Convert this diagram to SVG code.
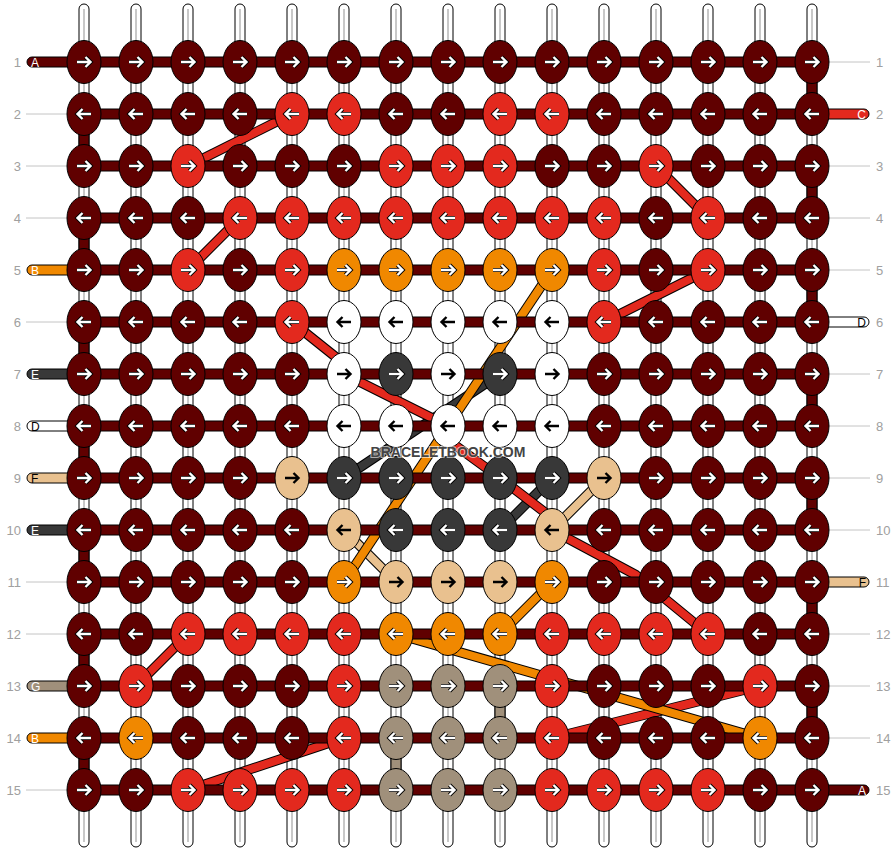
<svg xmlns="http://www.w3.org/2000/svg" xmlns:xlink="http://www.w3.org/1999/xlink" width="896" height="852" viewBox="0 0 896 852">
<style>
.d{fill:#600000}.r{fill:#e3291e}.o{fill:#f08800}.w{fill:#fff}.k{fill:#383838}.t{fill:#e9c18f}.g{fill:#a0907b}
ellipse{stroke:#000;stroke-width:1}
.bar{fill:#600000;stroke:#000;stroke-width:1}
.tube{fill:#fff;stroke:#000;stroke-width:1}
.core{stroke:#c8c8c8;stroke-width:2}
.seg{stroke:#000;stroke-width:1}
.gl{stroke:#c4c4c4;stroke-width:1}
.num{font-family:"Liberation Sans",Arial,sans-serif;font-size:13px;fill:#a0a0a0}
.lab{font-family:"Liberation Sans",Arial,sans-serif;font-size:12px}
.ol{fill:none;stroke:#000;stroke-width:10;stroke-linejoin:round}
.cl{fill:none;stroke-width:8;stroke-linejoin:round}
.sr{stroke:#e3291e}.so{stroke:#f08800}.sk{stroke:#383838}.st{stroke:#e9c18f}
.wm{font-family:"Liberation Sans",Arial,sans-serif;font-size:14px;font-weight:bold;fill:#444;stroke:#fff;stroke-width:2;stroke-opacity:0.6;paint-order:stroke}
</style>
<defs>
<g id="R"><path d="M-7,0H6M1.5,-5L6.5,0L1.5,5" fill="none" stroke="#000" stroke-width="4.2"/><path d="M-7,0H6M1.5,-5L6.5,0L1.5,5" fill="none" stroke="#fff" stroke-width="2.4"/></g>
<g id="L" transform="scale(-1,1)"><use href="#R"/></g>
<path id="Rb" d="M-7,0H6M1.5,-5L6.5,0L1.5,5" fill="none" stroke="#000" stroke-width="2.4"/>
<g id="Lb" transform="scale(-1,1)"><use href="#Rb"/></g>
</defs>
<rect width="896" height="852" fill="#fff"/>

<g id="labels">
<text class="num" x="21" y="67" text-anchor="end">1</text>
<text class="num" x="21" y="119" text-anchor="end">2</text>
<text class="num" x="21" y="171" text-anchor="end">3</text>
<text class="num" x="21" y="223" text-anchor="end">4</text>
<text class="num" x="21" y="275" text-anchor="end">5</text>
<text class="num" x="21" y="327" text-anchor="end">6</text>
<text class="num" x="21" y="379" text-anchor="end">7</text>
<text class="num" x="21" y="431" text-anchor="end">8</text>
<text class="num" x="21" y="483" text-anchor="end">9</text>
<text class="num" x="21" y="535" text-anchor="end">10</text>
<text class="num" x="21" y="587" text-anchor="end">11</text>
<text class="num" x="21" y="639" text-anchor="end">12</text>
<text class="num" x="21" y="691" text-anchor="end">13</text>
<text class="num" x="21" y="743" text-anchor="end">14</text>
<text class="num" x="21" y="795" text-anchor="end">15</text>
<text class="num" x="876" y="67">1</text>
<text class="num" x="876" y="119">2</text>
<text class="num" x="876" y="171">3</text>
<text class="num" x="876" y="223">4</text>
<text class="num" x="876" y="275">5</text>
<text class="num" x="876" y="327">6</text>
<text class="num" x="876" y="379">7</text>
<text class="num" x="876" y="431">8</text>
<text class="num" x="876" y="483">9</text>
<text class="num" x="876" y="535">10</text>
<text class="num" x="876" y="587">11</text>
<text class="num" x="876" y="639">12</text>
<text class="num" x="876" y="691">13</text>
<text class="num" x="876" y="743">14</text>
<text class="num" x="876" y="795">15</text>
<line class="gl" x1="26" y1="114" x2="67" y2="114"/>
<line class="gl" x1="26" y1="166" x2="67" y2="166"/>
<line class="gl" x1="26" y1="218" x2="67" y2="218"/>
<line class="gl" x1="26" y1="322" x2="67" y2="322"/>
<line class="gl" x1="26" y1="582" x2="67" y2="582"/>
<line class="gl" x1="26" y1="634" x2="67" y2="634"/>
<line class="gl" x1="26" y1="790" x2="67" y2="790"/>
<line class="gl" x1="829" y1="62" x2="870" y2="62"/>
<line class="gl" x1="829" y1="166" x2="870" y2="166"/>
<line class="gl" x1="829" y1="218" x2="870" y2="218"/>
<line class="gl" x1="829" y1="270" x2="870" y2="270"/>
<line class="gl" x1="829" y1="374" x2="870" y2="374"/>
<line class="gl" x1="829" y1="426" x2="870" y2="426"/>
<line class="gl" x1="829" y1="478" x2="870" y2="478"/>
<line class="gl" x1="829" y1="530" x2="870" y2="530"/>
<line class="gl" x1="829" y1="634" x2="870" y2="634"/>
<line class="gl" x1="829" y1="686" x2="870" y2="686"/>
<line class="gl" x1="829" y1="738" x2="870" y2="738"/>
</g>

<g id="strings">
<g id="tubes">
<rect class="tube" x="79" y="4" width="10" height="843" rx="5"/><line class="core" x1="84" y1="9" x2="84" y2="842"/>
<rect class="tube" x="131" y="4" width="10" height="843" rx="5"/><line class="core" x1="136" y1="9" x2="136" y2="842"/>
<rect class="tube" x="183" y="4" width="10" height="843" rx="5"/><line class="core" x1="188" y1="9" x2="188" y2="842"/>
<rect class="tube" x="235" y="4" width="10" height="843" rx="5"/><line class="core" x1="240" y1="9" x2="240" y2="842"/>
<rect class="tube" x="287" y="4" width="10" height="843" rx="5"/><line class="core" x1="292" y1="9" x2="292" y2="842"/>
<rect class="tube" x="339" y="4" width="10" height="843" rx="5"/><line class="core" x1="344" y1="9" x2="344" y2="842"/>
<rect class="tube" x="391" y="4" width="10" height="843" rx="5"/><line class="core" x1="396" y1="9" x2="396" y2="842"/>
<rect class="tube" x="443" y="4" width="10" height="843" rx="5"/><line class="core" x1="448" y1="9" x2="448" y2="842"/>
<rect class="tube" x="495" y="4" width="10" height="843" rx="5"/><line class="core" x1="500" y1="9" x2="500" y2="842"/>
<rect class="tube" x="547" y="4" width="10" height="843" rx="5"/><line class="core" x1="552" y1="9" x2="552" y2="842"/>
<rect class="tube" x="599" y="4" width="10" height="843" rx="5"/><line class="core" x1="604" y1="9" x2="604" y2="842"/>
<rect class="tube" x="651" y="4" width="10" height="843" rx="5"/><line class="core" x1="656" y1="9" x2="656" y2="842"/>
<rect class="tube" x="703" y="4" width="10" height="843" rx="5"/><line class="core" x1="708" y1="9" x2="708" y2="842"/>
<rect class="tube" x="755" y="4" width="10" height="843" rx="5"/><line class="core" x1="760" y1="9" x2="760" y2="842"/>
<rect class="tube" x="807" y="4" width="10" height="843" rx="5"/><line class="core" x1="812" y1="9" x2="812" y2="842"/>
</g>
<g id="vsegs">
<rect class="seg d" x="79" y="129" width="10" height="22"/>
<rect class="seg d" x="79" y="233" width="10" height="22"/>
<rect class="seg d" x="79" y="337" width="10" height="22"/>
<rect class="seg d" x="79" y="441" width="10" height="22"/>
<rect class="seg d" x="79" y="545" width="10" height="22"/>
<rect class="seg d" x="79" y="649" width="10" height="22"/>
<rect class="seg d" x="79" y="753" width="10" height="22"/>
<rect class="seg d" x="807" y="77" width="10" height="22"/>
<rect class="seg d" x="807" y="181" width="10" height="22"/>
<rect class="seg d" x="807" y="285" width="10" height="22"/>
<rect class="seg d" x="807" y="389" width="10" height="22"/>
<rect class="seg d" x="807" y="493" width="10" height="22"/>
<rect class="seg d" x="807" y="597" width="10" height="22"/>
<rect class="seg d" x="807" y="701" width="10" height="22"/>
<rect class="seg g" x="495" y="701" width="10" height="22"/>
<rect class="seg g" x="391" y="753" width="10" height="22"/>
</g>
</g>

<g id="connectors">
<path class="ol" d="M500,374L344,478"/><path class="cl sk" d="M500,374L344,478"/>
<path class="ol" d="M500,530L552,478"/><path class="cl sk" d="M500,530L552,478"/>
<path class="ol" d="M292,322L337,358L344,374L448,426L452,443L500,478L547,514L552,530L636,575L708,634"/><path class="cl sr" d="M292,322L337,358L344,374L448,426L452,443L500,478L547,514L552,530L636,575L708,634"/>
<path class="ol" d="M604,478L552,530"/><path class="cl st" d="M604,478L552,530"/>
<path class="ol" d="M344,530L396,582"/><path class="cl st" d="M344,530L396,582"/>
<path class="ol" d="M552,270L344,582"/><path class="cl so" d="M552,270L344,582"/>
<path class="ol" d="M552,582L500,634"/><path class="cl so" d="M552,582L500,634"/>
<path class="ol" d="M552,738L760,686"/><path class="cl sr" d="M552,738L760,686"/>
<path class="ol" d="M396,634L760,738"/><path class="cl so" d="M396,634L760,738"/>
<path class="ol" d="M292,114L188,166"/><path class="cl sr" d="M292,114L188,166"/>
<path class="ol" d="M240,218L188,270"/><path class="cl sr" d="M240,218L188,270"/>
<path class="ol" d="M656,166L708,218"/><path class="cl sr" d="M656,166L708,218"/>
<path class="ol" d="M708,270L604,322"/><path class="cl sr" d="M708,270L604,322"/>
<path class="ol" d="M188,634L136,686"/><path class="cl sr" d="M188,634L136,686"/>
<path class="ol" d="M188,790L344,738"/><path class="cl sr" d="M188,790L344,738"/>
</g>

<g id="rows">
<rect class="bar" x="84" y="57" width="728" height="10"/>
<rect class="bar" x="84" y="109" width="728" height="10"/>
<rect class="bar" x="84" y="161" width="728" height="10"/>
<rect class="bar" x="84" y="213" width="728" height="10"/>
<rect class="bar" x="84" y="265" width="728" height="10"/>
<rect class="bar" x="84" y="317" width="728" height="10"/>
<rect class="bar" x="84" y="369" width="728" height="10"/>
<rect class="bar" x="84" y="421" width="728" height="10"/>
<rect class="bar" x="84" y="473" width="728" height="10"/>
<rect class="bar" x="84" y="525" width="728" height="10"/>
<rect class="bar" x="84" y="577" width="728" height="10"/>
<rect class="bar" x="84" y="629" width="728" height="10"/>
<rect class="bar" x="84" y="681" width="728" height="10"/>
<rect class="bar" x="84" y="733" width="728" height="10"/>
<rect class="bar" x="84" y="785" width="728" height="10"/>
<g id="tail-l1"><path class="seg d" d="M84,57H32A5,5 0 0 0 32,67H84Z"/><text class="lab" x="31" y="66.5" fill="#fff">A</text></g>
<g id="tail-l5"><path class="seg o" d="M84,265H32A5,5 0 0 0 32,275H84Z"/><text class="lab" x="31" y="274.5" fill="#fff">B</text></g>
<g id="tail-l7"><path class="seg k" d="M84,369H32A5,5 0 0 0 32,379H84Z"/><text class="lab" x="31" y="378.5" fill="#fff">E</text></g>
<g id="tail-l8"><path class="seg w" d="M84,421H32A5,5 0 0 0 32,431H84Z"/><text class="lab" x="31" y="430.5" fill="#000">D</text></g>
<g id="tail-l9"><path class="seg t" d="M84,473H32A5,5 0 0 0 32,483H84Z"/><text class="lab" x="31" y="482.5" fill="#000">F</text></g>
<g id="tail-l10"><path class="seg k" d="M84,525H32A5,5 0 0 0 32,535H84Z"/><text class="lab" x="31" y="534.5" fill="#fff">E</text></g>
<g id="tail-l13"><path class="seg g" d="M84,681H32A5,5 0 0 0 32,691H84Z"/><text class="lab" x="31" y="690.5" fill="#fff">G</text></g>
<g id="tail-l14"><path class="seg o" d="M84,733H32A5,5 0 0 0 32,743H84Z"/><text class="lab" x="31" y="742.5" fill="#fff">B</text></g>
<g id="tail-r2"><path class="seg r" d="M812,109H864A5,5 0 0 1 864,119H812Z"/><text class="lab" x="866" y="118.5" text-anchor="end" fill="#fff">C</text></g>
<g id="tail-r6"><path class="seg w" d="M812,317H864A5,5 0 0 1 864,327H812Z"/><text class="lab" x="866" y="326.5" text-anchor="end" fill="#000">D</text></g>
<g id="tail-r11"><path class="seg t" d="M812,577H864A5,5 0 0 1 864,587H812Z"/><text class="lab" x="866" y="586.5" text-anchor="end" fill="#000">F</text></g>
<g id="tail-r15"><path class="seg d" d="M812,785H864A5,5 0 0 1 864,795H812Z"/><text class="lab" x="866" y="794.5" text-anchor="end" fill="#fff">A</text></g>
</g>

<g id="nodes">
<g id="n1-1"><ellipse class="d" cx="84" cy="62" rx="17" ry="21.5"/><use href="#R" x="84" y="62"/></g>
<g id="n1-2"><ellipse class="d" cx="136" cy="62" rx="17" ry="21.5"/><use href="#R" x="136" y="62"/></g>
<g id="n1-3"><ellipse class="d" cx="188" cy="62" rx="17" ry="21.5"/><use href="#R" x="188" y="62"/></g>
<g id="n1-4"><ellipse class="d" cx="240" cy="62" rx="17" ry="21.5"/><use href="#R" x="240" y="62"/></g>
<g id="n1-5"><ellipse class="d" cx="292" cy="62" rx="17" ry="21.5"/><use href="#R" x="292" y="62"/></g>
<g id="n1-6"><ellipse class="d" cx="344" cy="62" rx="17" ry="21.5"/><use href="#R" x="344" y="62"/></g>
<g id="n1-7"><ellipse class="d" cx="396" cy="62" rx="17" ry="21.5"/><use href="#R" x="396" y="62"/></g>
<g id="n1-8"><ellipse class="d" cx="448" cy="62" rx="17" ry="21.5"/><use href="#R" x="448" y="62"/></g>
<g id="n1-9"><ellipse class="d" cx="500" cy="62" rx="17" ry="21.5"/><use href="#R" x="500" y="62"/></g>
<g id="n1-10"><ellipse class="d" cx="552" cy="62" rx="17" ry="21.5"/><use href="#R" x="552" y="62"/></g>
<g id="n1-11"><ellipse class="d" cx="604" cy="62" rx="17" ry="21.5"/><use href="#R" x="604" y="62"/></g>
<g id="n1-12"><ellipse class="d" cx="656" cy="62" rx="17" ry="21.5"/><use href="#R" x="656" y="62"/></g>
<g id="n1-13"><ellipse class="d" cx="708" cy="62" rx="17" ry="21.5"/><use href="#R" x="708" y="62"/></g>
<g id="n1-14"><ellipse class="d" cx="760" cy="62" rx="17" ry="21.5"/><use href="#R" x="760" y="62"/></g>
<g id="n1-15"><ellipse class="d" cx="812" cy="62" rx="17" ry="21.5"/><use href="#R" x="812" y="62"/></g>

<g id="n2-1"><ellipse class="d" cx="84" cy="114" rx="17" ry="21.5"/><use href="#L" x="84" y="114"/></g>
<g id="n2-2"><ellipse class="d" cx="136" cy="114" rx="17" ry="21.5"/><use href="#L" x="136" y="114"/></g>
<g id="n2-3"><ellipse class="d" cx="188" cy="114" rx="17" ry="21.5"/><use href="#L" x="188" y="114"/></g>
<g id="n2-4"><ellipse class="d" cx="240" cy="114" rx="17" ry="21.5"/><use href="#L" x="240" y="114"/></g>
<g id="n2-5"><ellipse class="r" cx="292" cy="114" rx="17" ry="21.5"/><use href="#L" x="292" y="114"/></g>
<g id="n2-6"><ellipse class="r" cx="344" cy="114" rx="17" ry="21.5"/><use href="#L" x="344" y="114"/></g>
<g id="n2-7"><ellipse class="d" cx="396" cy="114" rx="17" ry="21.5"/><use href="#L" x="396" y="114"/></g>
<g id="n2-8"><ellipse class="d" cx="448" cy="114" rx="17" ry="21.5"/><use href="#L" x="448" y="114"/></g>
<g id="n2-9"><ellipse class="r" cx="500" cy="114" rx="17" ry="21.5"/><use href="#L" x="500" y="114"/></g>
<g id="n2-10"><ellipse class="r" cx="552" cy="114" rx="17" ry="21.5"/><use href="#L" x="552" y="114"/></g>
<g id="n2-11"><ellipse class="d" cx="604" cy="114" rx="17" ry="21.5"/><use href="#L" x="604" y="114"/></g>
<g id="n2-12"><ellipse class="d" cx="656" cy="114" rx="17" ry="21.5"/><use href="#L" x="656" y="114"/></g>
<g id="n2-13"><ellipse class="d" cx="708" cy="114" rx="17" ry="21.5"/><use href="#L" x="708" y="114"/></g>
<g id="n2-14"><ellipse class="d" cx="760" cy="114" rx="17" ry="21.5"/><use href="#L" x="760" y="114"/></g>
<g id="n2-15"><ellipse class="d" cx="812" cy="114" rx="17" ry="21.5"/><use href="#L" x="812" y="114"/></g>

<g id="n3-1"><ellipse class="d" cx="84" cy="166" rx="17" ry="21.5"/><use href="#R" x="84" y="166"/></g>
<g id="n3-2"><ellipse class="d" cx="136" cy="166" rx="17" ry="21.5"/><use href="#R" x="136" y="166"/></g>
<g id="n3-3"><ellipse class="r" cx="188" cy="166" rx="17" ry="21.5"/><use href="#R" x="188" y="166"/></g>
<g id="n3-4"><ellipse class="d" cx="240" cy="166" rx="17" ry="21.5"/><use href="#R" x="240" y="166"/></g>
<g id="n3-5"><ellipse class="d" cx="292" cy="166" rx="17" ry="21.5"/><use href="#R" x="292" y="166"/></g>
<g id="n3-6"><ellipse class="d" cx="344" cy="166" rx="17" ry="21.5"/><use href="#R" x="344" y="166"/></g>
<g id="n3-7"><ellipse class="r" cx="396" cy="166" rx="17" ry="21.5"/><use href="#R" x="396" y="166"/></g>
<g id="n3-8"><ellipse class="r" cx="448" cy="166" rx="17" ry="21.5"/><use href="#R" x="448" y="166"/></g>
<g id="n3-9"><ellipse class="r" cx="500" cy="166" rx="17" ry="21.5"/><use href="#R" x="500" y="166"/></g>
<g id="n3-10"><ellipse class="d" cx="552" cy="166" rx="17" ry="21.5"/><use href="#R" x="552" y="166"/></g>
<g id="n3-11"><ellipse class="d" cx="604" cy="166" rx="17" ry="21.5"/><use href="#R" x="604" y="166"/></g>
<g id="n3-12"><ellipse class="r" cx="656" cy="166" rx="17" ry="21.5"/><use href="#R" x="656" y="166"/></g>
<g id="n3-13"><ellipse class="d" cx="708" cy="166" rx="17" ry="21.5"/><use href="#R" x="708" y="166"/></g>
<g id="n3-14"><ellipse class="d" cx="760" cy="166" rx="17" ry="21.5"/><use href="#R" x="760" y="166"/></g>
<g id="n3-15"><ellipse class="d" cx="812" cy="166" rx="17" ry="21.5"/><use href="#R" x="812" y="166"/></g>

<g id="n4-1"><ellipse class="d" cx="84" cy="218" rx="17" ry="21.5"/><use href="#L" x="84" y="218"/></g>
<g id="n4-2"><ellipse class="d" cx="136" cy="218" rx="17" ry="21.5"/><use href="#L" x="136" y="218"/></g>
<g id="n4-3"><ellipse class="d" cx="188" cy="218" rx="17" ry="21.5"/><use href="#L" x="188" y="218"/></g>
<g id="n4-4"><ellipse class="r" cx="240" cy="218" rx="17" ry="21.5"/><use href="#L" x="240" y="218"/></g>
<g id="n4-5"><ellipse class="r" cx="292" cy="218" rx="17" ry="21.5"/><use href="#L" x="292" y="218"/></g>
<g id="n4-6"><ellipse class="r" cx="344" cy="218" rx="17" ry="21.5"/><use href="#L" x="344" y="218"/></g>
<g id="n4-7"><ellipse class="r" cx="396" cy="218" rx="17" ry="21.5"/><use href="#L" x="396" y="218"/></g>
<g id="n4-8"><ellipse class="r" cx="448" cy="218" rx="17" ry="21.5"/><use href="#L" x="448" y="218"/></g>
<g id="n4-9"><ellipse class="r" cx="500" cy="218" rx="17" ry="21.5"/><use href="#L" x="500" y="218"/></g>
<g id="n4-10"><ellipse class="r" cx="552" cy="218" rx="17" ry="21.5"/><use href="#L" x="552" y="218"/></g>
<g id="n4-11"><ellipse class="r" cx="604" cy="218" rx="17" ry="21.5"/><use href="#L" x="604" y="218"/></g>
<g id="n4-12"><ellipse class="d" cx="656" cy="218" rx="17" ry="21.5"/><use href="#L" x="656" y="218"/></g>
<g id="n4-13"><ellipse class="r" cx="708" cy="218" rx="17" ry="21.5"/><use href="#L" x="708" y="218"/></g>
<g id="n4-14"><ellipse class="d" cx="760" cy="218" rx="17" ry="21.5"/><use href="#L" x="760" y="218"/></g>
<g id="n4-15"><ellipse class="d" cx="812" cy="218" rx="17" ry="21.5"/><use href="#L" x="812" y="218"/></g>

<g id="n5-1"><ellipse class="d" cx="84" cy="270" rx="17" ry="21.5"/><use href="#R" x="84" y="270"/></g>
<g id="n5-2"><ellipse class="d" cx="136" cy="270" rx="17" ry="21.5"/><use href="#R" x="136" y="270"/></g>
<g id="n5-3"><ellipse class="r" cx="188" cy="270" rx="17" ry="21.5"/><use href="#R" x="188" y="270"/></g>
<g id="n5-4"><ellipse class="d" cx="240" cy="270" rx="17" ry="21.5"/><use href="#R" x="240" y="270"/></g>
<g id="n5-5"><ellipse class="r" cx="292" cy="270" rx="17" ry="21.5"/><use href="#R" x="292" y="270"/></g>
<g id="n5-6"><ellipse class="o" cx="344" cy="270" rx="17" ry="21.5"/><use href="#R" x="344" y="270"/></g>
<g id="n5-7"><ellipse class="o" cx="396" cy="270" rx="17" ry="21.5"/><use href="#R" x="396" y="270"/></g>
<g id="n5-8"><ellipse class="o" cx="448" cy="270" rx="17" ry="21.5"/><use href="#R" x="448" y="270"/></g>
<g id="n5-9"><ellipse class="o" cx="500" cy="270" rx="17" ry="21.5"/><use href="#R" x="500" y="270"/></g>
<g id="n5-10"><ellipse class="o" cx="552" cy="270" rx="17" ry="21.5"/><use href="#R" x="552" y="270"/></g>
<g id="n5-11"><ellipse class="r" cx="604" cy="270" rx="17" ry="21.5"/><use href="#R" x="604" y="270"/></g>
<g id="n5-12"><ellipse class="d" cx="656" cy="270" rx="17" ry="21.5"/><use href="#R" x="656" y="270"/></g>
<g id="n5-13"><ellipse class="r" cx="708" cy="270" rx="17" ry="21.5"/><use href="#R" x="708" y="270"/></g>
<g id="n5-14"><ellipse class="d" cx="760" cy="270" rx="17" ry="21.5"/><use href="#R" x="760" y="270"/></g>
<g id="n5-15"><ellipse class="d" cx="812" cy="270" rx="17" ry="21.5"/><use href="#R" x="812" y="270"/></g>

<g id="n6-1"><ellipse class="d" cx="84" cy="322" rx="17" ry="21.5"/><use href="#L" x="84" y="322"/></g>
<g id="n6-2"><ellipse class="d" cx="136" cy="322" rx="17" ry="21.5"/><use href="#L" x="136" y="322"/></g>
<g id="n6-3"><ellipse class="d" cx="188" cy="322" rx="17" ry="21.5"/><use href="#L" x="188" y="322"/></g>
<g id="n6-4"><ellipse class="d" cx="240" cy="322" rx="17" ry="21.5"/><use href="#L" x="240" y="322"/></g>
<g id="n6-5"><ellipse class="r" cx="292" cy="322" rx="17" ry="21.5"/><use href="#L" x="292" y="322"/></g>
<g id="n6-6"><ellipse class="w" cx="344" cy="322" rx="17" ry="21.5"/><use href="#Lb" x="344" y="322"/></g>
<g id="n6-7"><ellipse class="w" cx="396" cy="322" rx="17" ry="21.5"/><use href="#Lb" x="396" y="322"/></g>
<g id="n6-8"><ellipse class="w" cx="448" cy="322" rx="17" ry="21.5"/><use href="#Lb" x="448" y="322"/></g>
<g id="n6-9"><ellipse class="w" cx="500" cy="322" rx="17" ry="21.5"/><use href="#Lb" x="500" y="322"/></g>
<g id="n6-10"><ellipse class="w" cx="552" cy="322" rx="17" ry="21.5"/><use href="#Lb" x="552" y="322"/></g>
<g id="n6-11"><ellipse class="r" cx="604" cy="322" rx="17" ry="21.5"/><use href="#L" x="604" y="322"/></g>
<g id="n6-12"><ellipse class="d" cx="656" cy="322" rx="17" ry="21.5"/><use href="#L" x="656" y="322"/></g>
<g id="n6-13"><ellipse class="d" cx="708" cy="322" rx="17" ry="21.5"/><use href="#L" x="708" y="322"/></g>
<g id="n6-14"><ellipse class="d" cx="760" cy="322" rx="17" ry="21.5"/><use href="#L" x="760" y="322"/></g>
<g id="n6-15"><ellipse class="d" cx="812" cy="322" rx="17" ry="21.5"/><use href="#L" x="812" y="322"/></g>

<g id="n7-1"><ellipse class="d" cx="84" cy="374" rx="17" ry="21.5"/><use href="#R" x="84" y="374"/></g>
<g id="n7-2"><ellipse class="d" cx="136" cy="374" rx="17" ry="21.5"/><use href="#R" x="136" y="374"/></g>
<g id="n7-3"><ellipse class="d" cx="188" cy="374" rx="17" ry="21.5"/><use href="#R" x="188" y="374"/></g>
<g id="n7-4"><ellipse class="d" cx="240" cy="374" rx="17" ry="21.5"/><use href="#R" x="240" y="374"/></g>
<g id="n7-5"><ellipse class="d" cx="292" cy="374" rx="17" ry="21.5"/><use href="#R" x="292" y="374"/></g>
<g id="n7-6"><ellipse class="w" cx="344" cy="374" rx="17" ry="21.5"/><use href="#Rb" x="344" y="374"/></g>
<g id="n7-7"><ellipse class="k" cx="396" cy="374" rx="17" ry="21.5"/><use href="#R" x="396" y="374"/></g>
<g id="n7-8"><ellipse class="w" cx="448" cy="374" rx="17" ry="21.5"/><use href="#Rb" x="448" y="374"/></g>
<g id="n7-9"><ellipse class="k" cx="500" cy="374" rx="17" ry="21.5"/><use href="#R" x="500" y="374"/></g>
<g id="n7-10"><ellipse class="w" cx="552" cy="374" rx="17" ry="21.5"/><use href="#Rb" x="552" y="374"/></g>
<g id="n7-11"><ellipse class="d" cx="604" cy="374" rx="17" ry="21.5"/><use href="#R" x="604" y="374"/></g>
<g id="n7-12"><ellipse class="d" cx="656" cy="374" rx="17" ry="21.5"/><use href="#R" x="656" y="374"/></g>
<g id="n7-13"><ellipse class="d" cx="708" cy="374" rx="17" ry="21.5"/><use href="#R" x="708" y="374"/></g>
<g id="n7-14"><ellipse class="d" cx="760" cy="374" rx="17" ry="21.5"/><use href="#R" x="760" y="374"/></g>
<g id="n7-15"><ellipse class="d" cx="812" cy="374" rx="17" ry="21.5"/><use href="#R" x="812" y="374"/></g>

<g id="n8-1"><ellipse class="d" cx="84" cy="426" rx="17" ry="21.5"/><use href="#L" x="84" y="426"/></g>
<g id="n8-2"><ellipse class="d" cx="136" cy="426" rx="17" ry="21.5"/><use href="#L" x="136" y="426"/></g>
<g id="n8-3"><ellipse class="d" cx="188" cy="426" rx="17" ry="21.5"/><use href="#L" x="188" y="426"/></g>
<g id="n8-4"><ellipse class="d" cx="240" cy="426" rx="17" ry="21.5"/><use href="#L" x="240" y="426"/></g>
<g id="n8-5"><ellipse class="d" cx="292" cy="426" rx="17" ry="21.5"/><use href="#L" x="292" y="426"/></g>
<g id="n8-6"><ellipse class="w" cx="344" cy="426" rx="17" ry="21.5"/><use href="#Lb" x="344" y="426"/></g>
<g id="n8-7"><ellipse class="w" cx="396" cy="426" rx="17" ry="21.5"/><use href="#Lb" x="396" y="426"/></g>
<g id="n8-8"><ellipse class="w" cx="448" cy="426" rx="17" ry="21.5"/><use href="#Lb" x="448" y="426"/></g>
<g id="n8-9"><ellipse class="w" cx="500" cy="426" rx="17" ry="21.5"/><use href="#Lb" x="500" y="426"/></g>
<g id="n8-10"><ellipse class="w" cx="552" cy="426" rx="17" ry="21.5"/><use href="#Lb" x="552" y="426"/></g>
<g id="n8-11"><ellipse class="d" cx="604" cy="426" rx="17" ry="21.5"/><use href="#L" x="604" y="426"/></g>
<g id="n8-12"><ellipse class="d" cx="656" cy="426" rx="17" ry="21.5"/><use href="#L" x="656" y="426"/></g>
<g id="n8-13"><ellipse class="d" cx="708" cy="426" rx="17" ry="21.5"/><use href="#L" x="708" y="426"/></g>
<g id="n8-14"><ellipse class="d" cx="760" cy="426" rx="17" ry="21.5"/><use href="#L" x="760" y="426"/></g>
<g id="n8-15"><ellipse class="d" cx="812" cy="426" rx="17" ry="21.5"/><use href="#L" x="812" y="426"/></g>

<g id="n9-1"><ellipse class="d" cx="84" cy="478" rx="17" ry="21.5"/><use href="#R" x="84" y="478"/></g>
<g id="n9-2"><ellipse class="d" cx="136" cy="478" rx="17" ry="21.5"/><use href="#R" x="136" y="478"/></g>
<g id="n9-3"><ellipse class="d" cx="188" cy="478" rx="17" ry="21.5"/><use href="#R" x="188" y="478"/></g>
<g id="n9-4"><ellipse class="d" cx="240" cy="478" rx="17" ry="21.5"/><use href="#R" x="240" y="478"/></g>
<g id="n9-5"><ellipse class="t" cx="292" cy="478" rx="17" ry="21.5"/><use href="#Rb" x="292" y="478"/></g>
<g id="n9-6"><ellipse class="k" cx="344" cy="478" rx="17" ry="21.5"/><use href="#R" x="344" y="478"/></g>
<g id="n9-7"><ellipse class="k" cx="396" cy="478" rx="17" ry="21.5"/><use href="#R" x="396" y="478"/></g>
<g id="n9-8"><ellipse class="k" cx="448" cy="478" rx="17" ry="21.5"/><use href="#R" x="448" y="478"/></g>
<g id="n9-9"><ellipse class="k" cx="500" cy="478" rx="17" ry="21.5"/><use href="#R" x="500" y="478"/></g>
<g id="n9-10"><ellipse class="k" cx="552" cy="478" rx="17" ry="21.5"/><use href="#R" x="552" y="478"/></g>
<g id="n9-11"><ellipse class="t" cx="604" cy="478" rx="17" ry="21.5"/><use href="#Rb" x="604" y="478"/></g>
<g id="n9-12"><ellipse class="d" cx="656" cy="478" rx="17" ry="21.5"/><use href="#R" x="656" y="478"/></g>
<g id="n9-13"><ellipse class="d" cx="708" cy="478" rx="17" ry="21.5"/><use href="#R" x="708" y="478"/></g>
<g id="n9-14"><ellipse class="d" cx="760" cy="478" rx="17" ry="21.5"/><use href="#R" x="760" y="478"/></g>
<g id="n9-15"><ellipse class="d" cx="812" cy="478" rx="17" ry="21.5"/><use href="#R" x="812" y="478"/></g>

<g id="n10-1"><ellipse class="d" cx="84" cy="530" rx="17" ry="21.5"/><use href="#L" x="84" y="530"/></g>
<g id="n10-2"><ellipse class="d" cx="136" cy="530" rx="17" ry="21.5"/><use href="#L" x="136" y="530"/></g>
<g id="n10-3"><ellipse class="d" cx="188" cy="530" rx="17" ry="21.5"/><use href="#L" x="188" y="530"/></g>
<g id="n10-4"><ellipse class="d" cx="240" cy="530" rx="17" ry="21.5"/><use href="#L" x="240" y="530"/></g>
<g id="n10-5"><ellipse class="d" cx="292" cy="530" rx="17" ry="21.5"/><use href="#L" x="292" y="530"/></g>
<g id="n10-6"><ellipse class="t" cx="344" cy="530" rx="17" ry="21.5"/><use href="#Lb" x="344" y="530"/></g>
<g id="n10-7"><ellipse class="k" cx="396" cy="530" rx="17" ry="21.5"/><use href="#L" x="396" y="530"/></g>
<g id="n10-8"><ellipse class="k" cx="448" cy="530" rx="17" ry="21.5"/><use href="#L" x="448" y="530"/></g>
<g id="n10-9"><ellipse class="k" cx="500" cy="530" rx="17" ry="21.5"/><use href="#L" x="500" y="530"/></g>
<g id="n10-10"><ellipse class="t" cx="552" cy="530" rx="17" ry="21.5"/><use href="#Lb" x="552" y="530"/></g>
<g id="n10-11"><ellipse class="d" cx="604" cy="530" rx="17" ry="21.5"/><use href="#L" x="604" y="530"/></g>
<g id="n10-12"><ellipse class="d" cx="656" cy="530" rx="17" ry="21.5"/><use href="#L" x="656" y="530"/></g>
<g id="n10-13"><ellipse class="d" cx="708" cy="530" rx="17" ry="21.5"/><use href="#L" x="708" y="530"/></g>
<g id="n10-14"><ellipse class="d" cx="760" cy="530" rx="17" ry="21.5"/><use href="#L" x="760" y="530"/></g>
<g id="n10-15"><ellipse class="d" cx="812" cy="530" rx="17" ry="21.5"/><use href="#L" x="812" y="530"/></g>

<g id="n11-1"><ellipse class="d" cx="84" cy="582" rx="17" ry="21.5"/><use href="#R" x="84" y="582"/></g>
<g id="n11-2"><ellipse class="d" cx="136" cy="582" rx="17" ry="21.5"/><use href="#R" x="136" y="582"/></g>
<g id="n11-3"><ellipse class="d" cx="188" cy="582" rx="17" ry="21.5"/><use href="#R" x="188" y="582"/></g>
<g id="n11-4"><ellipse class="d" cx="240" cy="582" rx="17" ry="21.5"/><use href="#R" x="240" y="582"/></g>
<g id="n11-5"><ellipse class="d" cx="292" cy="582" rx="17" ry="21.5"/><use href="#R" x="292" y="582"/></g>
<g id="n11-6"><ellipse class="o" cx="344" cy="582" rx="17" ry="21.5"/><use href="#R" x="344" y="582"/></g>
<g id="n11-7"><ellipse class="t" cx="396" cy="582" rx="17" ry="21.5"/><use href="#Rb" x="396" y="582"/></g>
<g id="n11-8"><ellipse class="t" cx="448" cy="582" rx="17" ry="21.5"/><use href="#Rb" x="448" y="582"/></g>
<g id="n11-9"><ellipse class="t" cx="500" cy="582" rx="17" ry="21.5"/><use href="#Rb" x="500" y="582"/></g>
<g id="n11-10"><ellipse class="o" cx="552" cy="582" rx="17" ry="21.5"/><use href="#R" x="552" y="582"/></g>
<g id="n11-11"><ellipse class="d" cx="604" cy="582" rx="17" ry="21.5"/><use href="#R" x="604" y="582"/></g>
<g id="n11-12"><ellipse class="d" cx="656" cy="582" rx="17" ry="21.5"/><use href="#R" x="656" y="582"/></g>
<g id="n11-13"><ellipse class="d" cx="708" cy="582" rx="17" ry="21.5"/><use href="#R" x="708" y="582"/></g>
<g id="n11-14"><ellipse class="d" cx="760" cy="582" rx="17" ry="21.5"/><use href="#R" x="760" y="582"/></g>
<g id="n11-15"><ellipse class="d" cx="812" cy="582" rx="17" ry="21.5"/><use href="#R" x="812" y="582"/></g>

<g id="n12-1"><ellipse class="d" cx="84" cy="634" rx="17" ry="21.5"/><use href="#L" x="84" y="634"/></g>
<g id="n12-2"><ellipse class="d" cx="136" cy="634" rx="17" ry="21.5"/><use href="#L" x="136" y="634"/></g>
<g id="n12-3"><ellipse class="r" cx="188" cy="634" rx="17" ry="21.5"/><use href="#L" x="188" y="634"/></g>
<g id="n12-4"><ellipse class="r" cx="240" cy="634" rx="17" ry="21.5"/><use href="#L" x="240" y="634"/></g>
<g id="n12-5"><ellipse class="r" cx="292" cy="634" rx="17" ry="21.5"/><use href="#L" x="292" y="634"/></g>
<g id="n12-6"><ellipse class="r" cx="344" cy="634" rx="17" ry="21.5"/><use href="#L" x="344" y="634"/></g>
<g id="n12-7"><ellipse class="o" cx="396" cy="634" rx="17" ry="21.5"/><use href="#L" x="396" y="634"/></g>
<g id="n12-8"><ellipse class="o" cx="448" cy="634" rx="17" ry="21.5"/><use href="#L" x="448" y="634"/></g>
<g id="n12-9"><ellipse class="o" cx="500" cy="634" rx="17" ry="21.5"/><use href="#L" x="500" y="634"/></g>
<g id="n12-10"><ellipse class="r" cx="552" cy="634" rx="17" ry="21.5"/><use href="#L" x="552" y="634"/></g>
<g id="n12-11"><ellipse class="r" cx="604" cy="634" rx="17" ry="21.5"/><use href="#L" x="604" y="634"/></g>
<g id="n12-12"><ellipse class="r" cx="656" cy="634" rx="17" ry="21.5"/><use href="#L" x="656" y="634"/></g>
<g id="n12-13"><ellipse class="r" cx="708" cy="634" rx="17" ry="21.5"/><use href="#L" x="708" y="634"/></g>
<g id="n12-14"><ellipse class="d" cx="760" cy="634" rx="17" ry="21.5"/><use href="#L" x="760" y="634"/></g>
<g id="n12-15"><ellipse class="d" cx="812" cy="634" rx="17" ry="21.5"/><use href="#L" x="812" y="634"/></g>

<g id="n13-1"><ellipse class="d" cx="84" cy="686" rx="17" ry="21.5"/><use href="#R" x="84" y="686"/></g>
<g id="n13-2"><ellipse class="r" cx="136" cy="686" rx="17" ry="21.5"/><use href="#R" x="136" y="686"/></g>
<g id="n13-3"><ellipse class="d" cx="188" cy="686" rx="17" ry="21.5"/><use href="#R" x="188" y="686"/></g>
<g id="n13-4"><ellipse class="d" cx="240" cy="686" rx="17" ry="21.5"/><use href="#R" x="240" y="686"/></g>
<g id="n13-5"><ellipse class="d" cx="292" cy="686" rx="17" ry="21.5"/><use href="#R" x="292" y="686"/></g>
<g id="n13-6"><ellipse class="r" cx="344" cy="686" rx="17" ry="21.5"/><use href="#R" x="344" y="686"/></g>
<g id="n13-7"><ellipse class="g" cx="396" cy="686" rx="17" ry="21.5"/><use href="#R" x="396" y="686"/></g>
<g id="n13-8"><ellipse class="g" cx="448" cy="686" rx="17" ry="21.5"/><use href="#R" x="448" y="686"/></g>
<g id="n13-9"><ellipse class="g" cx="500" cy="686" rx="17" ry="21.5"/><use href="#R" x="500" y="686"/></g>
<g id="n13-10"><ellipse class="r" cx="552" cy="686" rx="17" ry="21.5"/><use href="#R" x="552" y="686"/></g>
<g id="n13-11"><ellipse class="d" cx="604" cy="686" rx="17" ry="21.5"/><use href="#R" x="604" y="686"/></g>
<g id="n13-12"><ellipse class="d" cx="656" cy="686" rx="17" ry="21.5"/><use href="#R" x="656" y="686"/></g>
<g id="n13-13"><ellipse class="d" cx="708" cy="686" rx="17" ry="21.5"/><use href="#R" x="708" y="686"/></g>
<g id="n13-14"><ellipse class="r" cx="760" cy="686" rx="17" ry="21.5"/><use href="#R" x="760" y="686"/></g>
<g id="n13-15"><ellipse class="d" cx="812" cy="686" rx="17" ry="21.5"/><use href="#R" x="812" y="686"/></g>

<g id="n14-1"><ellipse class="d" cx="84" cy="738" rx="17" ry="21.5"/><use href="#L" x="84" y="738"/></g>
<g id="n14-2"><ellipse class="o" cx="136" cy="738" rx="17" ry="21.5"/><use href="#L" x="136" y="738"/></g>
<g id="n14-3"><ellipse class="d" cx="188" cy="738" rx="17" ry="21.5"/><use href="#L" x="188" y="738"/></g>
<g id="n14-4"><ellipse class="d" cx="240" cy="738" rx="17" ry="21.5"/><use href="#L" x="240" y="738"/></g>
<g id="n14-5"><ellipse class="d" cx="292" cy="738" rx="17" ry="21.5"/><use href="#L" x="292" y="738"/></g>
<g id="n14-6"><ellipse class="r" cx="344" cy="738" rx="17" ry="21.5"/><use href="#L" x="344" y="738"/></g>
<g id="n14-7"><ellipse class="g" cx="396" cy="738" rx="17" ry="21.5"/><use href="#L" x="396" y="738"/></g>
<g id="n14-8"><ellipse class="g" cx="448" cy="738" rx="17" ry="21.5"/><use href="#L" x="448" y="738"/></g>
<g id="n14-9"><ellipse class="g" cx="500" cy="738" rx="17" ry="21.5"/><use href="#L" x="500" y="738"/></g>
<g id="n14-10"><ellipse class="r" cx="552" cy="738" rx="17" ry="21.5"/><use href="#L" x="552" y="738"/></g>
<g id="n14-11"><ellipse class="d" cx="604" cy="738" rx="17" ry="21.5"/><use href="#L" x="604" y="738"/></g>
<g id="n14-12"><ellipse class="d" cx="656" cy="738" rx="17" ry="21.5"/><use href="#L" x="656" y="738"/></g>
<g id="n14-13"><ellipse class="d" cx="708" cy="738" rx="17" ry="21.5"/><use href="#L" x="708" y="738"/></g>
<g id="n14-14"><ellipse class="o" cx="760" cy="738" rx="17" ry="21.5"/><use href="#L" x="760" y="738"/></g>
<g id="n14-15"><ellipse class="d" cx="812" cy="738" rx="17" ry="21.5"/><use href="#L" x="812" y="738"/></g>

<g id="n15-1"><ellipse class="d" cx="84" cy="790" rx="17" ry="21.5"/><use href="#R" x="84" y="790"/></g>
<g id="n15-2"><ellipse class="d" cx="136" cy="790" rx="17" ry="21.5"/><use href="#R" x="136" y="790"/></g>
<g id="n15-3"><ellipse class="r" cx="188" cy="790" rx="17" ry="21.5"/><use href="#R" x="188" y="790"/></g>
<g id="n15-4"><ellipse class="r" cx="240" cy="790" rx="17" ry="21.5"/><use href="#R" x="240" y="790"/></g>
<g id="n15-5"><ellipse class="r" cx="292" cy="790" rx="17" ry="21.5"/><use href="#R" x="292" y="790"/></g>
<g id="n15-6"><ellipse class="r" cx="344" cy="790" rx="17" ry="21.5"/><use href="#R" x="344" y="790"/></g>
<g id="n15-7"><ellipse class="g" cx="396" cy="790" rx="17" ry="21.5"/><use href="#R" x="396" y="790"/></g>
<g id="n15-8"><ellipse class="g" cx="448" cy="790" rx="17" ry="21.5"/><use href="#R" x="448" y="790"/></g>
<g id="n15-9"><ellipse class="g" cx="500" cy="790" rx="17" ry="21.5"/><use href="#R" x="500" y="790"/></g>
<g id="n15-10"><ellipse class="r" cx="552" cy="790" rx="17" ry="21.5"/><use href="#R" x="552" y="790"/></g>
<g id="n15-11"><ellipse class="r" cx="604" cy="790" rx="17" ry="21.5"/><use href="#R" x="604" y="790"/></g>
<g id="n15-12"><ellipse class="r" cx="656" cy="790" rx="17" ry="21.5"/><use href="#R" x="656" y="790"/></g>
<g id="n15-13"><ellipse class="r" cx="708" cy="790" rx="17" ry="21.5"/><use href="#R" x="708" y="790"/></g>
<g id="n15-14"><ellipse class="d" cx="760" cy="790" rx="17" ry="21.5"/><use href="#R" x="760" y="790"/></g>
<g id="n15-15"><ellipse class="d" cx="812" cy="790" rx="17" ry="21.5"/><use href="#R" x="812" y="790"/></g>
</g>

<g id="watermark"><text class="wm" x="448" y="457" text-anchor="middle">BRACELETBOOK.COM</text></g>
</svg>
